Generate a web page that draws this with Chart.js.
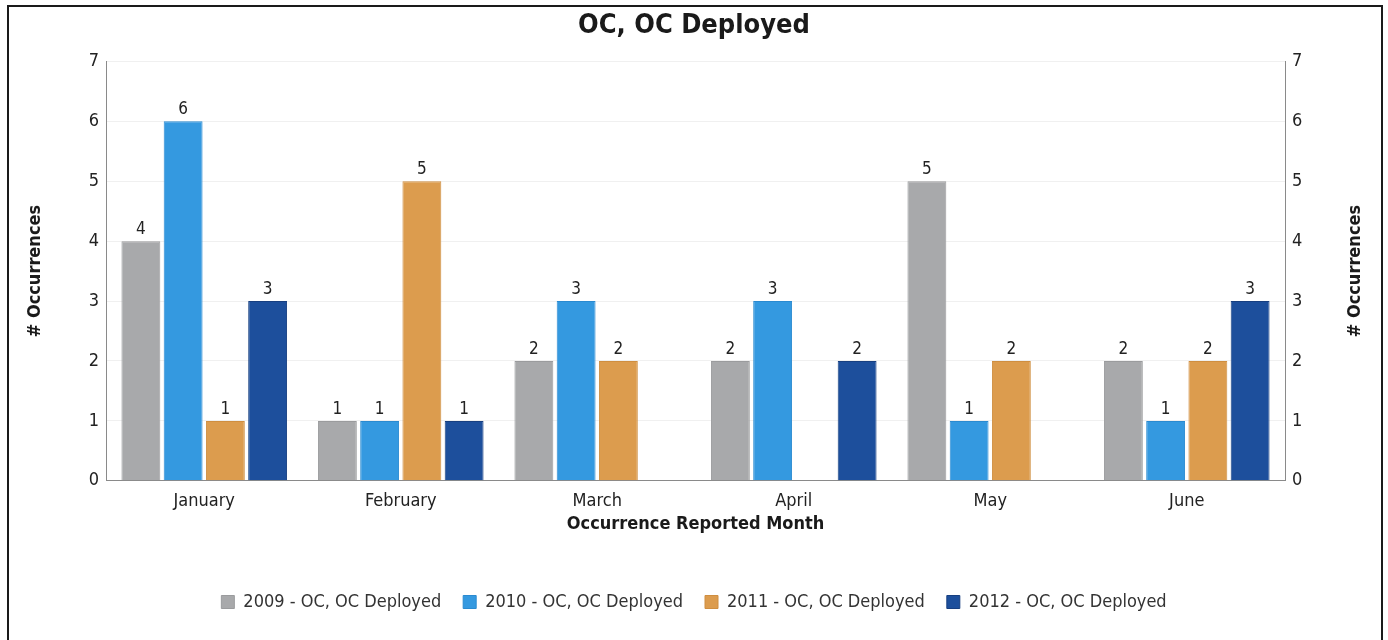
<!DOCTYPE html>
<html>
<head>
<meta charset="utf-8">
<script src="https://cdn.jsdelivr.net/npm/chart.js@4.4.1/dist/chart.umd.min.js"></script>
<style>
  html, body { margin: 0; padding: 0; background: #fff; }
  #wrap { position: relative; width: 1388px; height: 640px; }
  #frame { position: absolute; left: 7px; top: 5px; width: 1376px; height: 650px; border: 2px solid #1a1a1a; box-sizing: border-box; pointer-events: none; }
  canvas { display: block; }
</style>
</head>
<body>
<div id="wrap">
  <canvas id="c" width="1388" height="640"></canvas>
  <div id="frame"></div>
</div>
<script>
const months = ['January', 'February', 'March', 'April', 'May', 'June'];
const seriesNames = ['2009 - OC, OC Deployed', '2010 - OC, OC Deployed', '2011 - OC, OC Deployed', '2012 - OC, OC Deployed'];
const values2009 = [4, 1, 2, 2, 5, 2];
const values2010 = [6, 1, 3, 3, 1, 1];
const values2011 = [1, 5, 2, null, 2, 2];
const values2012 = [3, 1, null, 2, null, 3];
const yTicks = [0, 1, 2, 3, 4, 5, 6, 7];
const yTitle = '# Occurrences';
const colors = ['#a8a9ab', '#3499e0', '#dc9c4e', '#1d4f9c'];
const borders = ['#9a9b9d', '#2a8ad0', '#cf8e40', '#173f80'];

const FONT = '"DejaVu Sans Condensed", "DejaVu Sans", sans-serif';

const valueLabels = {
  id: 'valueLabels',
  afterDatasetsDraw(chart) {
    const ctx = chart.ctx;
    ctx.save();
    ctx.font = '17px ' + FONT;
    ctx.fillStyle = '#222';
    ctx.textAlign = 'center';
    ctx.textBaseline = 'bottom';
    chart.data.datasets.forEach((ds, i) => {
      const meta = chart.getDatasetMeta(i);
      meta.data.forEach((el, j) => {
        const v = ds.data[j];
        if (v === null || v === undefined) return;
        ctx.fillText(String(v), el.x, el.y - 3);
      });
    });
    ctx.restore();
  }
};

const rightTitle = {
  id: 'rightTitle',
  afterDraw(chart) {
    const s = chart.scales.y2;
    const ctx = chart.ctx;
    ctx.save();
    ctx.font = 'bold 18px ' + FONT;
    ctx.fillStyle = '#1a1a1a';
    ctx.textAlign = 'center';
    ctx.textBaseline = 'middle';
    ctx.translate(s.left + 70, (chart.chartArea.top + chart.chartArea.bottom) / 2);
    ctx.rotate(-Math.PI / 2);
    ctx.fillText(yTitle, 0, 0);
    ctx.restore();
  }
};

const allSeries = [values2009, values2010, values2011, values2012];

new Chart(document.getElementById('c'), {
  type: 'bar',
  data: {
    labels: months,
    datasets: allSeries.map((d, i) => ({
      label: seriesNames[i],
      data: d,
      backgroundColor: colors[i],
      borderColor: borders[i],
      borderWidth: 1,
      barPercentage: 0.92,
      categoryPercentage: 0.86,
      yAxisID: 'y'
    }))
  },
  options: {
    responsive: false,
    animation: false,
    devicePixelRatio: 1,
    layout: { padding: { left: 16, right: 16, top: 0, bottom: 19 } },
    plugins: {
      title: {
        display: true,
        text: 'OC, OC Deployed',
        color: '#1a1a1a',
        font: { family: FONT, size: 27, weight: 'bold' },
        padding: { top: 10, bottom: 19 }
      },
      legend: {
        position: 'bottom',
        labels: {
          color: '#333',
          font: { family: FONT, size: 18 },
          boxWidth: 13,
          boxHeight: 13,
          padding: 22
        }
      },
      tooltip: { enabled: false }
    },
    scales: {
      x: {
        grid: { display: false, drawTicks: false },
        border: { display: true, color: '#8a8a8a', width: 1 },
        ticks: { color: '#222', font: { family: FONT, size: 18 }, padding: 10 },
        title: {
          display: true,
          text: 'Occurrence Reported Month',
          color: '#1a1a1a',
          font: { family: FONT, size: 18, weight: 'bold' },
          padding: { top: -9, bottom: 36 }
        }
      },
      y: {
        position: 'left',
        min: 0, max: 7,
        afterBuildTicks(scale) { scale.ticks = yTicks.map(v => ({ value: v })); },
        afterFit(scale) { scale.width = 90; },
        grid: { color: 'rgba(0,0,0,0.06)', drawTicks: false },
        border: { display: true, color: '#8a8a8a', width: 1 },
        ticks: { color: '#222', font: { family: FONT, size: 18 }, padding: 7 },
        title: {
          display: true,
          text: yTitle,
          color: '#1a1a1a',
          font: { family: FONT, size: 18, weight: 'bold' },
          padding: { top: 9, bottom: 30 }
        }
      },
      y2: {
        position: 'right',
        min: 0, max: 7,
        afterBuildTicks(scale) { scale.ticks = yTicks.map(v => ({ value: v })); },
        afterFit(scale) { scale.width = 87; },
        grid: { display: false, drawTicks: false },
        border: { display: true, color: '#8a8a8a', width: 1 },
        ticks: { color: '#222', font: { family: FONT, size: 18 }, padding: 7 }
      }
    }
  },
  plugins: [valueLabels, rightTitle]
});
</script>
</body>
</html>
